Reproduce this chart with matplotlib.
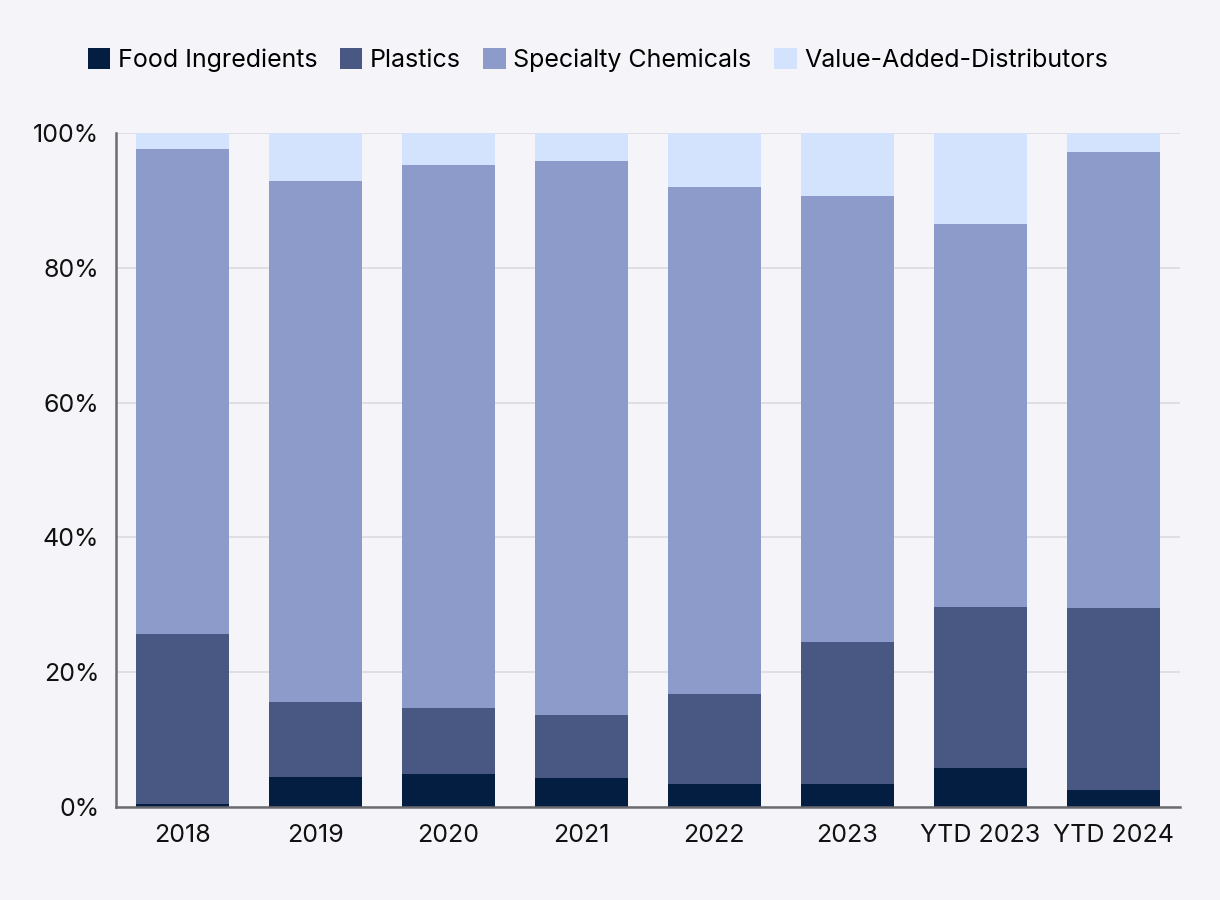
import matplotlib
matplotlib.use("Agg")
import matplotlib.pyplot as plt
import numpy as np
from matplotlib.patches import Patch

categories = ["2018", "2019", "2020", "2021", "2022", "2023", "YTD 2023", "YTD 2024"]
food = [0.45, 4.5, 4.9, 4.3, 3.4, 3.4, 5.8, 2.5]
plastics = [25.15, 11.1, 9.8, 9.4, 13.4, 21.1, 23.9, 27.1]
specialty = [72.0, 77.3, 80.5, 82.1, 75.2, 66.1, 56.8, 67.6]
value_added = [2.4, 7.1, 4.8, 4.2, 8.0, 9.4, 13.5, 2.8]

series_names = ["Food Ingredients", "Plastics", "Specialty Chemicals", "Value-Added-Distributors"]
colors = ["#041e42", "#495883", "#8c9bc9", "#d3e2fd"]
bg = "#f5f4f9"

plt.rcParams['font.family'] = ['Inter', 'DejaVu Sans']

fig = plt.figure(figsize=(12.2, 9), dpi=100, facecolor=bg)
ax = fig.add_axes([0.0951, 0.1033, 0.8719, 0.7489])
ax.set_facecolor(bg)

x = np.arange(len(categories))
bottom = np.zeros(len(categories))
for vals, c in zip([food, plastics, specialty, value_added], colors):
    ax.bar(x, vals, bottom=bottom, width=0.7, color=c, zorder=3)
    bottom += np.array(vals)

ax.set_xlim(-0.5, len(categories) - 0.5)
ax.set_ylim(0, 100)
ax.set_yticks([0, 20, 40, 60, 80, 100])
ax.set_yticklabels([f"{v}%" for v in [0, 20, 40, 60, 80, 100]])
ax.set_xticks(x)
ax.set_xticklabels(categories)
ax.tick_params(axis='both', length=0, labelsize=18, colors="#111111")
ax.tick_params(axis='y', pad=12)
ax.tick_params(axis='x', pad=12)
ax.yaxis.grid(True, color="#dcdce2", linewidth=1.3, zorder=0)
ax.set_axisbelow(True)
for s in ["top", "right"]:
    ax.spines[s].set_visible(False)
for s in ["left", "bottom"]:
    ax.spines[s].set_color("#6b6b70")
    ax.spines[s].set_linewidth(1.8)
ax.spines["bottom"].set_zorder(4)

handles = [Patch(facecolor=c, edgecolor="none") for c in colors]
fig.legend(handles, series_names, loc="center", bbox_to_anchor=(0.49, 0.933), ncol=4,
           frameon=False, fontsize=18, handlelength=0.9, handleheight=0.9,
           handletextpad=0.3, columnspacing=0.9)

fig.savefig("out.png", dpi=100, facecolor=bg)
